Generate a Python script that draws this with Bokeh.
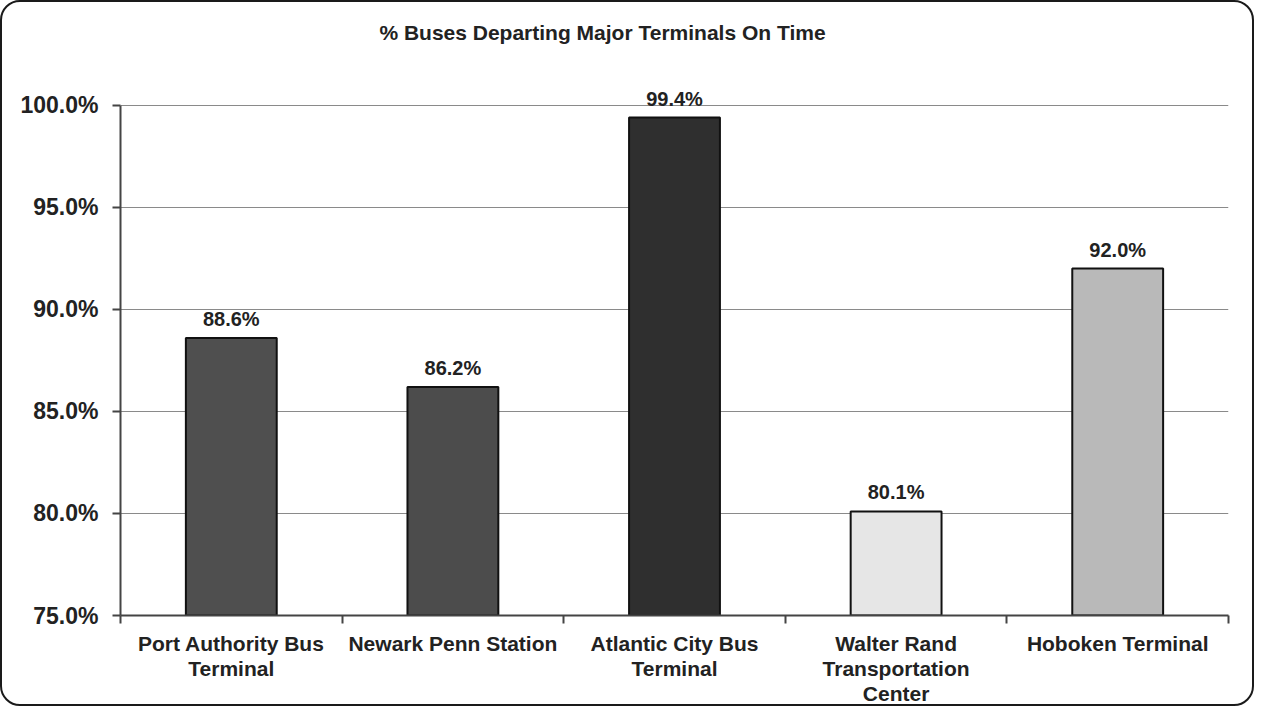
from bokeh.plotting import figure
from bokeh.models import ColumnDataSource, FixedTicker, PrintfTickFormatter, Range1d, Label
from bokeh.core.properties import value
from bokeh.embed import file_html
from bokeh.resources import INLINE

categories = ["Port Authority Bus\nTerminal", "Newark Penn Station", "Atlantic City Bus\nTerminal",
              "Walter Rand\nTransportation\nCenter", "Hoboken Terminal"]
values = [88.6, 86.2, 99.4, 80.1, 92.0]
labels = ["88.6%", "86.2%", "99.4%", "80.1%", "92.0%"]
colors = ["#4f4f4f", "#4c4c4c", "#2f2f2f", "#e6e6e6", "#b9b9b9"]
y_ticks = [75, 80, 85, 90, 95, 100]
title_text = "% Buses Departing Major Terminals On Time"

xs = list(range(1, len(categories) + 1))
src = ColumnDataSource(dict(x=xs, top=values, lab=labels, color=colors))

FONT = "Liberation Sans"

p = figure(width=1254, height=706, output_backend="svg", toolbar_location=None,
           x_range=Range1d(0.5, 5.5), y_range=Range1d(75, 104.55),
           min_border_left=118, min_border_right=28, min_border_top=10, min_border_bottom=92)
p.styles = {"border": "2px solid #1a1a1a", "border-radius": "20px"}
p.border_fill_color = None
p.background_fill_color = None
p.outline_line_color = None

title = Label(x=2.675, y=103.57, text=title_text, text_align="center", text_baseline="middle",
              text_font=FONT, text_font_style="bold", text_font_size="21px", text_color="#222222")
p.add_layout(title)

p.vbar(x="x", top="top", bottom=75, width=0.41, fill_color="color",
       line_color="#111111", line_width=2, source=src)
p.text(x="x", y="top", text="lab", source=src, text_align="center", text_baseline="bottom",
       y_offset=-8, text_font=value(FONT), text_font_style="bold", text_font_size="20px",
       text_color="#222222")

# y axis
p.yaxis.ticker = FixedTicker(ticks=y_ticks)
p.yaxis.formatter = PrintfTickFormatter(format="%.1f%%")
p.yaxis.bounds = (75, 100)
p.yaxis.major_tick_out = 8
p.yaxis.major_tick_in = 0
p.yaxis.minor_tick_out = 0
p.yaxis.minor_tick_in = 0
p.yaxis.major_label_standoff = 14
p.yaxis.axis_line_color = "#444444"
p.yaxis.axis_line_width = 2
p.yaxis.major_tick_line_color = "#444444"
p.yaxis.major_tick_line_width = 2
p.yaxis.major_label_text_font = FONT
p.yaxis.major_label_text_font_style = "bold"
p.yaxis.major_label_text_font_size = "23px"
p.yaxis.major_label_text_color = "#222222"

# x axis
p.xaxis.ticker = FixedTicker(ticks=xs, minor_ticks=[0.5, 1.5, 2.5, 3.5, 4.5, 5.5])
p.xaxis.major_label_overrides = {x: c for x, c in zip(xs, categories)}
p.xaxis.major_tick_out = 0
p.xaxis.major_tick_in = 0
p.xaxis.minor_tick_out = 8
p.xaxis.minor_tick_in = 0
p.xaxis.minor_tick_line_color = "#444444"
p.xaxis.minor_tick_line_width = 2
p.xaxis.axis_line_color = "#444444"
p.xaxis.axis_line_width = 2
p.xaxis.major_label_standoff = 8
p.xaxis.major_label_text_font = FONT
p.xaxis.major_label_text_font_style = "bold"
p.xaxis.major_label_text_font_size = "21px"
p.xaxis.major_label_text_color = "#222222"
p.xaxis.major_label_text_line_height = 1.1

p.xgrid.grid_line_color = None
p.ygrid.grid_line_color = "#8a8a8a"
p.ygrid.grid_line_width = 1
p.ygrid.bounds = (75, 100)

open("out.html", "w").write(file_html(p, INLINE))
